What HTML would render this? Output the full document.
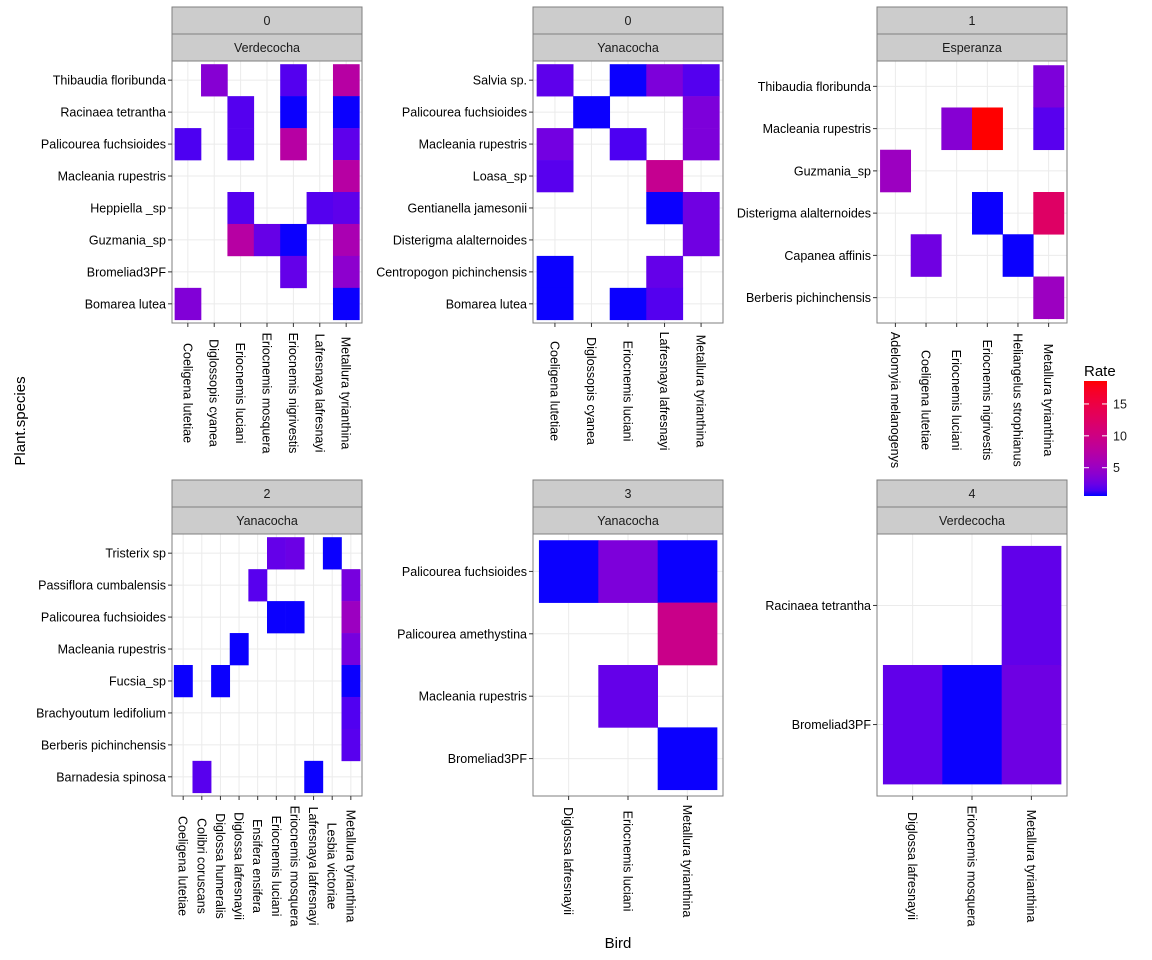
<!DOCTYPE html>
<html><head><meta charset="utf-8">
<style>
body{margin:0;background:#fff;}
svg{display:block;font-family:"Liberation Sans",sans-serif;}
</style></head>
<body>
<svg id="chart" width="1152" height="960" viewBox="0 0 1152 960" xmlns="http://www.w3.org/2000/svg">
<rect width="1152" height="960" fill="#fff"/>
<text x="618" y="948" font-size="15" text-anchor="middle" fill="#000">Bird</text>
<text transform="translate(25,421) rotate(-90)" font-size="15" text-anchor="middle" fill="#000">Plant.species</text>
<g id="legend"></g>
</svg>
<script>
// ---- data ----
const rateMin = 0.56;
const rateMax = 18.6;
const legendTicks = [5, 10, 15];

const p1Strip = ["0", "Verdecocha"];
const p1Birds = ["Coeligena lutetiae","Diglossopis cyanea","Eriocnemis luciani","Eriocnemis mosquera","Eriocnemis nigrivestis","Lafresnaya lafresnayi","Metallura tyrianthina"];
const p1Plants = ["Bomarea lutea","Bromeliad3PF","Guzmania_sp","Heppiella _sp","Macleania rupestris","Palicourea fuchsioides","Racinaea tetrantha","Thibaudia floribunda"];
const p1Cells = [
 ["Diglossopis cyanea","Thibaudia floribunda",3.8],["Eriocnemis nigrivestis","Thibaudia floribunda",1.7],["Metallura tyrianthina","Thibaudia floribunda",7.5],
 ["Eriocnemis luciani","Racinaea tetrantha",1.7],["Eriocnemis nigrivestis","Racinaea tetrantha",0.6],["Metallura tyrianthina","Racinaea tetrantha",0.6],
 ["Coeligena lutetiae","Palicourea fuchsioides",1.5],["Eriocnemis luciani","Palicourea fuchsioides",1.7],["Eriocnemis nigrivestis","Palicourea fuchsioides",7.5],["Metallura tyrianthina","Palicourea fuchsioides",2],
 ["Metallura tyrianthina","Macleania rupestris",7.5],
 ["Eriocnemis luciani","Heppiella _sp",1.7],["Lafresnaya lafresnayi","Heppiella _sp",1.7],["Metallura tyrianthina","Heppiella _sp",2],
 ["Eriocnemis luciani","Guzmania_sp",7.5],["Eriocnemis mosquera","Guzmania_sp",2.3],["Eriocnemis nigrivestis","Guzmania_sp",0.6],["Metallura tyrianthina","Guzmania_sp",6.3],
 ["Eriocnemis nigrivestis","Bromeliad3PF",2.2],["Metallura tyrianthina","Bromeliad3PF",4.2],
 ["Coeligena lutetiae","Bomarea lutea",3.5],["Metallura tyrianthina","Bomarea lutea",0.6]
];

const p2Strip = ["0", "Yanacocha"];
const p2Birds = ["Coeligena lutetiae","Diglossopis cyanea","Eriocnemis luciani","Lafresnaya lafresnayi","Metallura tyrianthina"];
const p2Plants = ["Bomarea lutea","Centropogon pichinchensis","Disterigma alalternoides","Gentianella jamesonii","Loasa_sp","Macleania rupestris","Palicourea fuchsioides","Salvia sp."];
const p2Cells = [
 ["Coeligena lutetiae","Salvia sp.",2],["Eriocnemis luciani","Salvia sp.",0.6],["Lafresnaya lafresnayi","Salvia sp.",3.3],["Metallura tyrianthina","Salvia sp.",1.7],
 ["Diglossopis cyanea","Palicourea fuchsioides",0.6],["Metallura tyrianthina","Palicourea fuchsioides",3.3],
 ["Coeligena lutetiae","Macleania rupestris",2.8],["Eriocnemis luciani","Macleania rupestris",1.5],["Metallura tyrianthina","Macleania rupestris",3.3],
 ["Coeligena lutetiae","Loasa_sp",1.8],["Lafresnaya lafresnayi","Loasa_sp",9],
 ["Lafresnaya lafresnayi","Gentianella jamesonii",0.6],["Metallura tyrianthina","Gentianella jamesonii",2.7],
 ["Metallura tyrianthina","Disterigma alalternoides",2.7],
 ["Coeligena lutetiae","Centropogon pichinchensis",0.6],["Lafresnaya lafresnayi","Centropogon pichinchensis",2.2],
 ["Coeligena lutetiae","Bomarea lutea",0.6],["Eriocnemis luciani","Bomarea lutea",0.6],["Lafresnaya lafresnayi","Bomarea lutea",1.7]
];

const p3Strip = ["1", "Esperanza"];
const p3Birds = ["Adelomyia melanogenys","Coeligena lutetiae","Eriocnemis luciani","Eriocnemis nigrivestis","Heliangelus strophianus","Metallura tyrianthina"];
const p3Plants = ["Berberis pichinchensis","Capanea affinis","Disterigma alalternoides","Guzmania_sp","Macleania rupestris","Thibaudia floribunda"];
const p3Cells = [
 ["Metallura tyrianthina","Thibaudia floribunda",3.3],
 ["Eriocnemis luciani","Macleania rupestris",3.8],["Eriocnemis nigrivestis","Macleania rupestris",18.6],["Metallura tyrianthina","Macleania rupestris",1.8],
 ["Adelomyia melanogenys","Guzmania_sp",5.2],
 ["Eriocnemis nigrivestis","Disterigma alalternoides",0.6],["Metallura tyrianthina","Disterigma alalternoides",12.5],
 ["Coeligena lutetiae","Capanea affinis",2.7],["Heliangelus strophianus","Capanea affinis",0.6],
 ["Metallura tyrianthina","Berberis pichinchensis",5.2]
];

const p4Strip = ["2", "Yanacocha"];
const p4Birds = ["Coeligena lutetiae","Colibri coruscans","Diglossa humeralis","Diglossa lafresnayii","Ensifera ensifera","Eriocnemis luciani","Eriocnemis mosquera","Lafresnaya lafresnayi","Lesbia victoriae","Metallura tyrianthina"];
const p4Plants = ["Barnadesia spinosa","Berberis pichinchensis","Brachyoutum ledifolium","Fucsia_sp","Macleania rupestris","Palicourea fuchsioides","Passiflora cumbalensis","Tristerix sp"];
const p4Cells = [
 ["Eriocnemis luciani","Tristerix sp",2.2],["Eriocnemis mosquera","Tristerix sp",2.5],["Lesbia victoriae","Tristerix sp",0.6],
 ["Ensifera ensifera","Passiflora cumbalensis",1.8],["Metallura tyrianthina","Passiflora cumbalensis",3],
 ["Eriocnemis luciani","Palicourea fuchsioides",0.6],["Eriocnemis mosquera","Palicourea fuchsioides",0.6],["Metallura tyrianthina","Palicourea fuchsioides",5.2],
 ["Diglossa lafresnayii","Macleania rupestris",0.6],["Metallura tyrianthina","Macleania rupestris",3],
 ["Coeligena lutetiae","Fucsia_sp",0.6],["Diglossa humeralis","Fucsia_sp",0.6],["Metallura tyrianthina","Fucsia_sp",0.6],
 ["Metallura tyrianthina","Brachyoutum ledifolium",1.6],
 ["Metallura tyrianthina","Berberis pichinchensis",1.8],
 ["Colibri coruscans","Barnadesia spinosa",1.8],["Lafresnaya lafresnayi","Barnadesia spinosa",0.6]
];

const p5Strip = ["3", "Yanacocha"];
const p5Birds = ["Diglossa lafresnayii","Eriocnemis luciani","Metallura tyrianthina"];
const p5Plants = ["Bromeliad3PF","Macleania rupestris","Palicourea amethystina","Palicourea fuchsioides"];
const p5Cells = [
 ["Diglossa lafresnayii","Palicourea fuchsioides",0.6],["Eriocnemis luciani","Palicourea fuchsioides",3.3],["Metallura tyrianthina","Palicourea fuchsioides",0.6],
 ["Metallura tyrianthina","Palicourea amethystina",9.5],
 ["Eriocnemis luciani","Macleania rupestris",2.2],
 ["Metallura tyrianthina","Bromeliad3PF",0.6]
];

const p6Strip = ["4", "Verdecocha"];
const p6Birds = ["Diglossa lafresnayii","Eriocnemis mosquera","Metallura tyrianthina"];
const p6Plants = ["Bromeliad3PF","Racinaea tetrantha"];
const p6Cells = [
 ["Metallura tyrianthina","Racinaea tetrantha",2.1],
 ["Diglossa lafresnayii","Bromeliad3PF",2.1],["Eriocnemis mosquera","Bromeliad3PF",0.6],["Metallura tyrianthina","Bromeliad3PF",2.6]
];

// ---- colour scale (Lab interpolation, blue -> red) ----
function toLin(c){c/=255;return c<=0.04045?c/12.92:Math.pow((c+0.055)/1.055,2.4);}
function fromLin(c){c=c<=0.0031308?12.92*c:1.055*Math.pow(c,1/2.4)-0.055;return Math.max(0,Math.min(255,Math.round(c*255)));}
function rgb2lab(r,g,b){r=toLin(r);g=toLin(g);b=toLin(b);
 let X=(0.4124*r+0.3576*g+0.1805*b)/0.95047,Y=(0.2126*r+0.7152*g+0.0722*b),Z=(0.0193*r+0.1192*g+0.9505*b)/1.08883;
 const f=t=>t>0.008856?Math.cbrt(t):7.787*t+16/116;X=f(X);Y=f(Y);Z=f(Z);
 return [116*Y-16,500*(X-Y),200*(Y-Z)];}
function lab2rgb(L,a,bb){let Y=(L+16)/116,X=a/500+Y,Z=Y-bb/200;
 const fi=t=>t*t*t>0.008856?t*t*t:(t-16/116)/7.787;X=fi(X)*0.95047;Y=fi(Y);Z=fi(Z)*1.08883;
 const r=3.2406*X-1.5372*Y-0.4986*Z,g=-0.9689*X+1.8758*Y+0.0415*Z,b=0.0557*X-0.2040*Y+1.0570*Z;
 return `rgb(${fromLin(r)},${fromLin(g)},${fromLin(b)})`;}
const LOW=rgb2lab(0,0,255),HIGH=rgb2lab(255,0,0);
function colorScale(v){let t=(v-rateMin)/(rateMax-rateMin);t=Math.max(0,Math.min(1,t));
 return lab2rgb(LOW[0]+(HIGH[0]-LOW[0])*t,LOW[1]+(HIGH[1]-LOW[1])*t,LOW[2]+(HIGH[2]-LOW[2])*t);}

const svg=document.getElementById('chart');
const NS='http://www.w3.org/2000/svg';
function mk(tag,attrs,parent){const e=document.createElementNS(NS,tag);for(const k in attrs)e.setAttribute(k,attrs[k]);(parent||svg).appendChild(e);return e;}

function drawPanel(key,strip,birds,plants,cells,px,py,labelCy){
 const W=190,H=262;
 const g=mk('g',{});
 
 
 const nx=birds.length,ny=plants.length;
 const ux=W/(nx+0.2),uy=H/(ny+0.2);
 const xs=b=>px+(birds.indexOf(b)+1-0.4)*ux;
 const ys=p=>py+(ny+0.6-(plants.indexOf(p)+1))*uy;
 const s1=mk('rect',{x:px,y:py-54,width:W,height:27,fill:'#cccccc',stroke:'#7f7f7f','stroke-width':1},g);
 
 
 const s2=mk('rect',{x:px,y:py-27,width:W,height:27,fill:'#cccccc',stroke:'#7f7f7f','stroke-width':1},g);
 
 
 const t1=mk('text',{x:px+W/2,y:py-36,'font-size':12.5,'text-anchor':'middle',fill:'#1a1a1a'},g);t1.textContent=strip[0];
 
 
 const t2=mk('text',{x:px+W/2,y:py-9,'font-size':12.5,'text-anchor':'middle',fill:'#1a1a1a'},g);t2.textContent=strip[1];
 
 
 mk('rect',{x:px,y:py,width:W,height:H,fill:'#fff'},g);
 birds.forEach(b=>{mk('line',{x1:xs(b),x2:xs(b),y1:py,y2:py+H,stroke:'#ebebeb','stroke-width':1},g);});
 plants.forEach(p=>{mk('line',{x1:px,x2:px+W,y1:ys(p),y2:ys(p),stroke:'#ebebeb','stroke-width':1},g);});
 cells.forEach(c=>{
  const r=mk('rect',{x:xs(c[0])-ux/2,y:ys(c[1])-uy/2,width:ux+0.3,height:uy+0.3,fill:colorScale(c[2])},g);
  
  
 });
 const bd=mk('rect',{x:px,y:py,width:W,height:H,fill:'none',stroke:'#7f7f7f','stroke-width':1},g);
 
 
 plants.forEach(p=>{
  mk('line',{x1:px-4,x2:px,y1:ys(p),y2:ys(p),stroke:'#333','stroke-width':1},g);
  const t=mk('text',{x:px-6,y:ys(p)+4.5,'font-size':12.5,'text-anchor':'end',fill:'#000'},g);t.textContent=p;
  
  
 });
 birds.forEach(b=>{
  mk('line',{x1:xs(b),x2:xs(b),y1:py+H,y2:py+H+4,stroke:'#333','stroke-width':1},g);
  const t=mk('text',{transform:`translate(${xs(b)-4.5},${labelCy}) rotate(90)`,'font-size':12.5,'text-anchor':'middle',fill:'#000'},g);t.textContent=b;
  
  
 });
}
drawPanel('0-verdecocha',p1Strip,p1Birds,p1Plants,p1Cells,172,61,393);
drawPanel('0-yanacocha',p2Strip,p2Birds,p2Plants,p2Cells,533,61,391);
drawPanel('1-esperanza',p3Strip,p3Birds,p3Plants,p3Cells,877,61,400);
drawPanel('2-yanacocha',p4Strip,p4Birds,p4Plants,p4Cells,172,534,866);
drawPanel('3-yanacocha',p5Strip,p5Birds,p5Plants,p5Cells,533,534,861);
drawPanel('4-verdecocha',p6Strip,p6Birds,p6Plants,p6Cells,877,534,866);

const lg=document.getElementById('legend');
const defs=mk('defs',{},lg);
const grad=mk('linearGradient',{id:'rg',x1:0,y1:1,x2:0,y2:0},defs);
for(let i=0;i<=20;i++){mk('stop',{offset:i/20,'stop-color':colorScale(rateMin+(rateMax-rateMin)*i/20)},grad);}
const lt=mk('text',{x:1084,y:376,'font-size':15,fill:'#000'},lg);lt.textContent='Rate';


const bar=mk('rect',{x:1084,y:381,width:23,height:115,fill:'url(#rg)'},lg);


const ly=v=>496-(v-rateMin)/(rateMax-rateMin)*115;
legendTicks.forEach(v=>{
 mk('line',{x1:1084,x2:1089,y1:ly(v),y2:ly(v),stroke:'#fff','stroke-width':1},lg);
 mk('line',{x1:1102,x2:1107,y1:ly(v),y2:ly(v),stroke:'#fff','stroke-width':1},lg);
 const t=mk('text',{x:1113,y:ly(v)+4.5,'font-size':12.5,fill:'#1a1a1a'},lg);t.textContent=v;
 
 
});
</script>
</body></html>
